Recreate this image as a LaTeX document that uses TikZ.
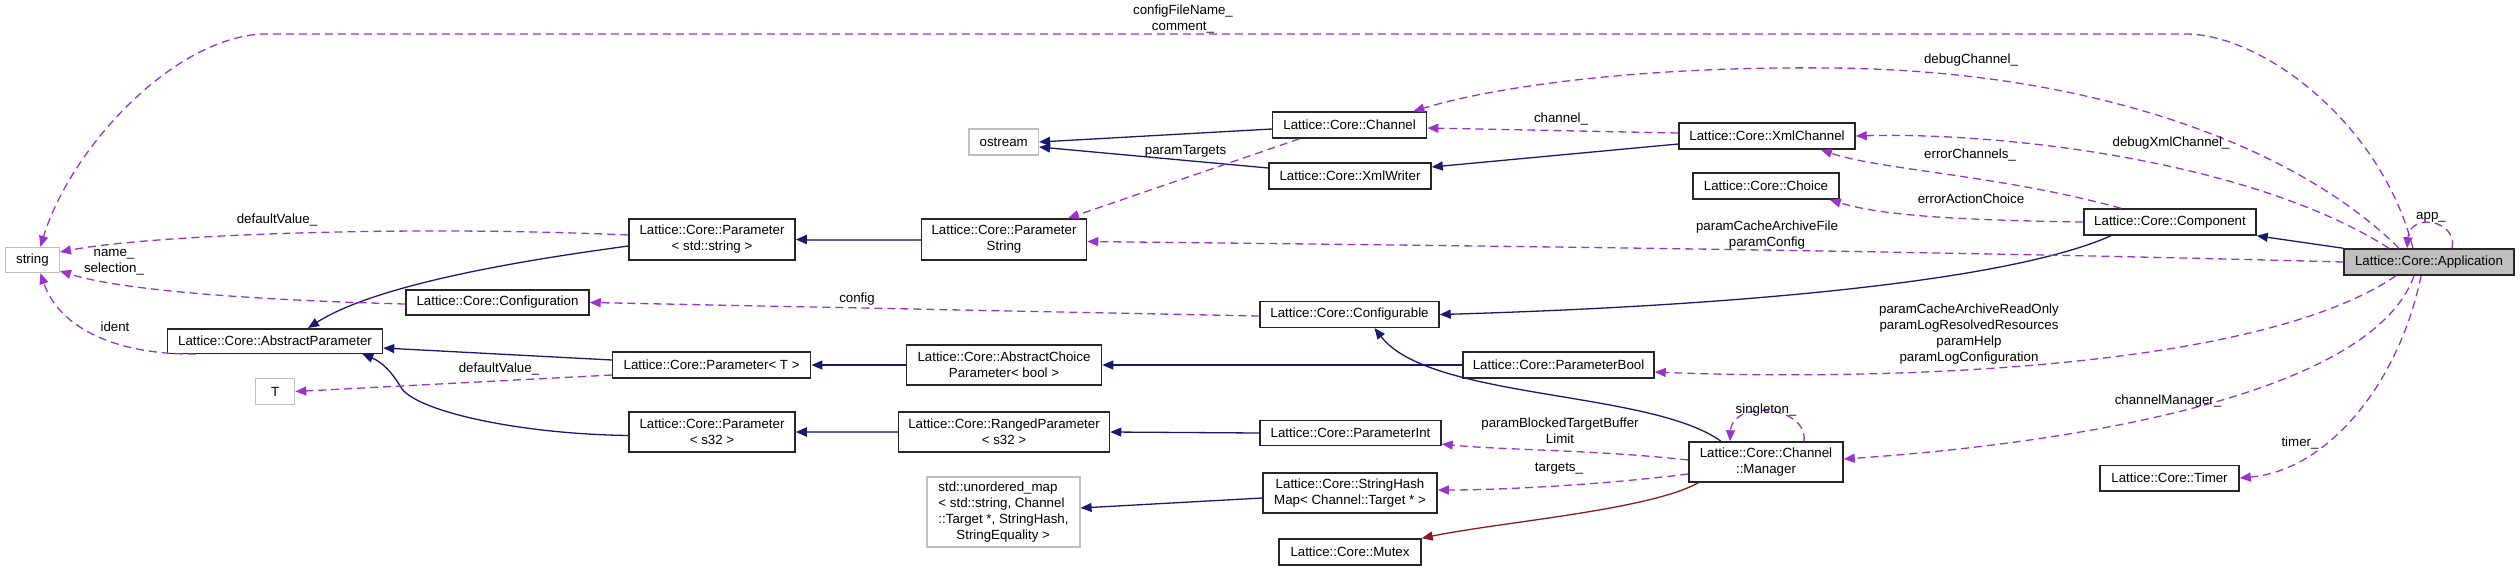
\documentclass[tikz,border=0pt]{standalone}
\usepackage{fontspec}
\setmainfont{Liberation Sans}
\usetikzlibrary{arrows.meta}
\definecolor{inhc}{HTML}{191970}
\definecolor{usec}{HTML}{9A32CD}
\definecolor{mtxc}{HTML}{8B1A1A}
\definecolor{extc}{HTML}{BFBFBF}
\begin{document}
\begin{tikzpicture}[x=1pt,y=-1pt,
  every node/.style={font=\fontsize{13.3}{16}\selectfont},
  cls/.style={draw=black!85, line width=1.5pt, fill=white, inner sep=0pt, align=center},
  extcls/.style={draw=extc, line width=1.2pt, fill=white, inner sep=0pt, align=center},
  lbl/.style={inner sep=0pt, align=center},
  inhedge/.style={draw=inhc, line width=1.3pt, -{Triangle[length=11pt,width=9pt]}},
  dblinh/.style={draw=inhc!70, line width=2pt, -{Triangle[length=11pt,width=9pt,fill=inhc,color=inhc]}},
  mtxedge/.style={draw=mtxc, line width=1.3pt, -{Triangle[length=11pt,width=9pt]}},
  useedge/.style={draw=usec, line width=1.3pt, dash pattern=on 8pt off 5pt, -{Triangle[length=11pt,width=9pt]}},
  wh/.style 2 args={minimum width=#1pt, minimum height=#2pt}]
\useasboundingbox (0,0) rectangle (2520,571);
% nodes
\node[extcls, wh={54}{25}] (str) at (32.4,260) {string};
\node[extcls, wh={69.5}{26}] (ost) at (1003.7,142) {ostream};
\node[extcls, wh={39}{25.5}] (tt) at (275.2,391.5) {T};
\node[extcls, wh={153}{70}, align=left] (umap) at (1003.5,512) {std::unordered\_map\\< std::string, Channel\\::Target *, StringHash,\\\hspace*{18pt}StringEquality >};
\node[cls, wh={215}{24.5}] (ap) at (275,341) {Lattice::Core::AbstractParameter};
\node[cls, wh={183}{25}] (cfgn) at (497.5,302.5) {Lattice::Core::Configuration};
\node[cls, wh={166}{41}] (pss) at (712,239.5) {Lattice::Core::Parameter\\< std::string >};
\node[cls, wh={165}{41}] (pstr) at (1004,239.5) {Lattice::Core::Parameter\\String};
\node[cls, wh={154}{26}] (chan) at (1349.6,125) {Lattice::Core::Channel};
\node[cls, wh={162}{26}] (xmlw) at (1350,176) {Lattice::Core::XmlWriter};
\node[cls, wh={176}{26}] (xmlch) at (1767,136) {Lattice::Core::XmlChannel};
\node[cls, wh={146}{26}] (choice) at (1766,186) {Lattice::Core::Choice};
\node[cls, wh={172}{26}] (comp) at (2170,222) {Lattice::Core::Component};
\node[cls, wh={170}{26}, fill=extc] (app) at (2429,262) {Lattice::Core::Application};
\node[cls, wh={179}{25.6}] (cfgb) at (1349.5,314.5) {Lattice::Core::Configurable};
\node[cls, wh={198}{26}] (ptt) at (711.6,365) {Lattice::Core::Parameter< T >};
\node[cls, wh={195}{40}] (achoice) at (1004,365) {Lattice::Core::AbstractChoice\\Parameter< bool >};
\node[cls, wh={191}{26}] (pbool) at (1558.5,365) {Lattice::Core::ParameterBool};
\node[cls, wh={166}{40}] (p32) at (712,432) {Lattice::Core::Parameter\\< s32 >};
\node[cls, wh={211}{40}] (rng) at (1004,432) {Lattice::Core::RangedParameter\\< s32 >};
\node[cls, wh={181}{25}] (pint) at (1350.5,433) {Lattice::Core::ParameterInt};
\node[cls, wh={174}{40}] (shm) at (1350,493) {Lattice::Core::StringHash\\Map< Channel::Target * >};
\node[cls, wh={142}{26}] (mutex) at (1350,552) {Lattice::Core::Mutex};
\node[cls, wh={154}{40}] (mgr) at (1766,462) {Lattice::Core::Channel\\::Manager};
\node[cls, wh={139}{25.5}] (timer) at (2169.5,478) {Lattice::Core::Timer};
% inheritance edges
\draw[inhedge] (app.north west) -- (comp.south east);
\draw[inhedge] ([xshift=-59pt]comp.south) .. controls (2000,285) and (1700,307) .. (cfgb.east);
\draw[inhedge] ([xshift=-45pt]mgr.north) .. controls (1650,390) and (1430,400) .. ([xshift=25pt]cfgb.south);
\draw[inhedge] ([yshift=-4pt]chan.west) -- (ost.east);
\draw[inhedge] ([yshift=8pt]xmlw.west) -- ([yshift=-5pt]ost.east);
\draw[inhedge] ([yshift=-8pt]xmlch.west) -- ([yshift=9pt]xmlw.east);
\draw[dblinh] (pstr.west) -- (pss.east);
\draw[inhedge] ([yshift=-6.5pt]pss.west) .. controls (540,258) and (380,282) .. ([xshift=33pt]ap.north);
\draw[inhedge] ([yshift=5pt]ptt.west) -- ([yshift=-7pt]ap.east);
\draw[inhedge] (achoice.west) -- (ptt.east);
\draw[inhedge] (pbool.west) -- (achoice.east);
\draw[inhedge] ([yshift=-3.5pt]p32.west) .. controls (520,434) and (420,412) .. (402,389) .. controls (392,372) and (382,362) .. ([xshift=-21pt]ap.south east);
\draw[dblinh] (rng.west) -- (p32.east);
\draw[inhedge] (pint.west) -- (rng.east);
\draw[inhedge] ([yshift=-5pt]shm.west) -- ([yshift=4pt]umap.east);
\draw[mtxedge] ([xshift=10pt]mgr.south west) .. controls (1650,510) and (1500,522) .. (mutex.north east);
% usage edges
\draw[useedge] ([xshift=-16pt]app.north) .. controls (2380,120) and (2260,34) .. (2186,34) -- (261,34) .. controls (170,40) and (70,150) .. ([xshift=8pt]str.north);
\draw[useedge] ([xshift=-30pt]app.north) .. controls (2300,150) and (2100,70) .. (1830,68) .. controls (1650,66) and (1500,85) .. ([xshift=-14pt]chan.north east);
\draw[useedge] ([yshift=3pt]xmlch.west) -- ([yshift=-3pt]chan.east);
\draw[useedge] ([xshift=-40pt]app.north) .. controls (2250,160) and (2000,132) .. (xmlch.east);
\draw[useedge] ([xshift=-49pt]comp.north) .. controls (2000,175) and (1880,170) .. ([xshift=54pt]xmlch.south);
\draw[useedge] (comp.west) .. controls (1950,220) and (1880,215) .. ([xshift=-10pt]choice.south east);
\draw[useedge] (app.west) .. controls (1900,250) and (1400,245) .. ([yshift=-2pt]pstr.east);
\draw[useedge] ([xshift=-50pt]chan.south) -- ([xshift=64pt]pstr.north);
\draw[useedge] ([yshift=-1.5pt]cfgb.west) -- (cfgn.east);
\draw[useedge] ([yshift=4.5pt]pss.west) .. controls (400,225) and (150,235) .. ([yshift=8pt]str.east);
\draw[useedge] ([yshift=-1.5pt]cfgn.west) .. controls (250,300) and (120,290) .. ([yshift=-11pt]str.east);
\draw[useedge] ([xshift=29pt]ap.south west) .. controls (120,355) and (60,330) .. ([xshift=8pt]str.south);
\draw[useedge] ([yshift=-10pt]ptt.west) -- (tt.east);
\draw[useedge] ([xshift=-33pt]app.south) .. controls (2250,375) and (1850,380) .. ([yshift=-7pt]pbool.east);
\draw[useedge] ([xshift=23pt]app.north) .. controls (2458,220) and (2410,212) .. ([xshift=-22pt]app.north);
\draw[useedge] ([xshift=-15pt]app.south) .. controls (2370,400) and (2050,445) .. ([yshift=3pt]mgr.east);
\draw[useedge] ([xshift=-8pt]app.south) .. controls (2400,380) and (2330,470) .. (timer.east);
\draw[useedge] ([xshift=38pt]mgr.north) .. controls (1808,405) and (1732,400) .. ([xshift=-36pt]mgr.north);
\draw[useedge] ([yshift=2pt]mgr.west) .. controls (1600,450) and (1500,450) .. ([yshift=-11pt]pint.east);
\draw[useedge] ([yshift=-12pt]mgr.west) .. controls (1600,485) and (1500,490) .. ([yshift=3pt]shm.east);
% labels
\node[lbl] (lcfg) at (1183,19) {configFileName\_\\comment\_};
\node[lbl] (ldbg) at (1971,60) {debugChannel\_};
\node[lbl] (lchan) at (1561,119) {channel\_};
\node[lbl] (ldxml) at (2171,143) {debugXmlChannel\_};
\node[lbl] (lerrc) at (1970,155) {errorChannels\_};
\node[lbl] (lpt) at (1185.5,151) {paramTargets};
\node[lbl] (lerra) at (1971,199) {errorActionChoice};
\node[lbl] (lpcaf) at (1767,235.5) {paramCacheArchiveFile\\paramConfig};
\node[lbl] (lapp) at (2431,217) {app\_};
\node[lbl] (ldv1) at (277,220) {defaultValue\_};
\node[lbl] (lname) at (114,262) {name\_\\selection\_};
\node[lbl] (lconfig) at (857,299) {config};
\node[lbl] (lident) at (115,327) {ident};
\node[lbl] (ldv2) at (499,368.5) {defaultValue\_};
\node[lbl] (lbool) at (1969,334) {paramCacheArchiveReadOnly\\paramLogResolvedResources\\paramHelp\\paramLogConfiguration};
\node[lbl] (lcm) at (2168,401) {channelManager\_};
\node[lbl] (lsing) at (1766,410) {singleton\_};
\node[lbl] (lpbt) at (1560,431) {paramBlockedTargetBuffer\\Limit};
\node[lbl] (ltimer) at (2300,443) {timer\_};
\node[lbl] (ltgt) at (1559,469) {targets\_};
\end{tikzpicture}
\end{document}
